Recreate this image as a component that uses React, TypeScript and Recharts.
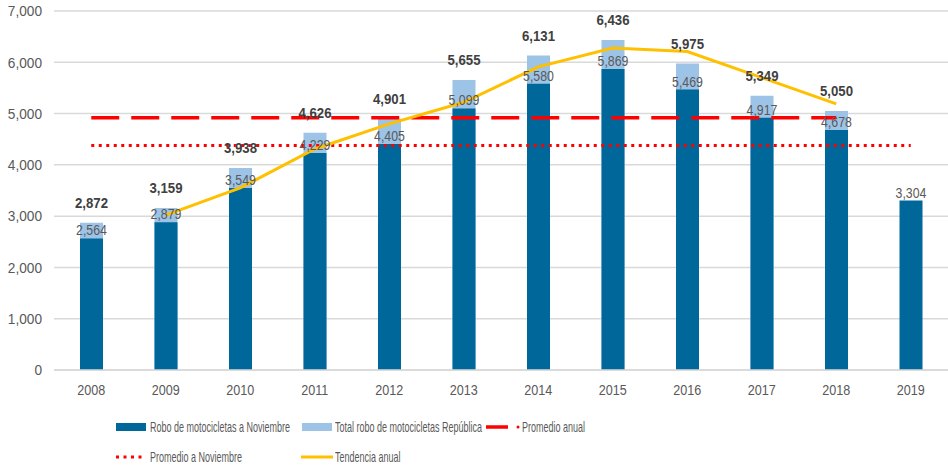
import React from "react";
import { Bar, CartesianGrid, ComposedChart, LabelList, Line, XAxis, YAxis } from "recharts";

const years = ["2008", "2009", "2010", "2011", "2012", "2013", "2014", "2015", "2016", "2017", "2018", "2019"];
const roboNoviembre = [2564, 2879, 3549, 4229, 4405, 5099, 5580, 5869, 5469, 4917, 4678, 3304];
const totalRepublica = [2872, 3159, 3938, 4626, 4901, 5655, 6131, 6436, 5975, 5349, 5050, null];
const promedioAnual = [4918, 4918, 4918, 4918, 4918, 4918, 4918, 4918, 4918, 4918, 4918, null];
const promedioNoviembre = [4379, 4379, 4379, 4379, 4379, 4379, 4379, 4379, 4379, 4379, 4379, 4379];
const tendencia = [null, 3020, 3550, 4310, 4800, 5220, 5910, 6280, 6210, 5700, 5190, null];
const yTicks = [0, 1000, 2000, 3000, 4000, 5000, 6000, 7000];

const DARK = "#00679A";
const LIGHT = "#9DC3E6";
const RED = "#FF0000";
const YELLOW = "#FFC000";
const FONT = "'Liberation Sans', Arial, sans-serif";

const data = years.map((year, i) => ({
  year,
  nov: roboNoviembre[i],
  total: totalRepublica[i],
  promAnual: promedioAnual[i],
  promNov: promedioNoviembre[i],
  tend: tendencia[i],
}));

const fmt = (v: unknown) => (v == null ? "" : Number(v).toLocaleString("en-US"));

// narrow-looking text: squeeze horizontally around the anchor point
function Narrow({ x, y, sx = 0.9, anchor = "middle", dy, size, fill, weight, children }: any) {
  return (
    <text
      x={x}
      y={y}
      dy={dy}
      textAnchor={anchor}
      fontSize={size}
      fill={fill}
      fontWeight={weight}
      fontFamily={FONT}
      transform={`translate(${x} 0) scale(${sx} 1) translate(${-x} 0)`}
    >
      {children}
    </text>
  );
}

const YTick = (p: any) => (
  <Narrow x={p.x} y={p.y} dy="0.35em" anchor="end" size={15} sx={0.91} fill="#595959">
    {fmt(p.payload.value)}
  </Narrow>
);

const XTick = (p: any) => (
  <Narrow x={p.x} y={p.y} dy="0.71em" size={14} sx={0.9} fill="#595959">
    {p.payload.value}
  </Narrow>
);

const totalLabel = (p: any) => {
  if (p.value == null) return null;
  return (
    <Narrow x={p.x + p.width / 2} y={p.y - 15} size={15} sx={0.88} fill="#404040" weight="bold">
      {fmt(p.value)}
    </Narrow>
  );
};

const novLabel = (p: any) => (
  <Narrow x={p.x + p.width / 2} y={p.y - 3} size={14} sx={0.88} fill="#595959">
    {fmt(p.value)}
  </Narrow>
);

function LegendText({ left, top, children }: { left: number; top: number; children: React.ReactNode }) {
  return (
    <div
      style={{
        position: "absolute",
        left,
        top,
        fontSize: 15,
        lineHeight: "16px",
        color: "#595959",
        whiteSpace: "nowrap",
        transform: "scaleX(0.6)",
        transformOrigin: "left center",
      }}
    >
      {children}
    </div>
  );
}

function ChartLegend() {
  return (
    <div style={{ position: "absolute", left: 0, top: 400, width: 948, height: 69, fontFamily: FONT }}>
      <div style={{ position: "absolute", left: 116, top: 23, width: 30, height: 8, background: DARK }} />
      <LegendText left={150} top={19}>Robo de motocicletas a Noviembre</LegendText>
      <div style={{ position: "absolute", left: 302, top: 23, width: 30, height: 8, background: LIGHT }} />
      <LegendText left={335} top={19}>Total robo de motocicletas República</LegendText>
      <svg style={{ position: "absolute", left: 484, top: 20 }} width={40} height={14}>
        <line x1={2} y1={7} x2={24} y2={7} stroke={RED} strokeWidth={3.5} />
        <circle cx={34} cy={7} r={1.5} fill={RED} />
      </svg>
      <LegendText left={522} top={19}>Promedio anual</LegendText>
      <svg style={{ position: "absolute", left: 112, top: 50 }} width={36} height={14}>
        <line x1={4} y1={7} x2={34} y2={7} stroke={RED} strokeWidth={3} strokeDasharray="3 4.5" />
      </svg>
      <LegendText left={150} top={49}>Promedio a Noviembre</LegendText>
      <svg style={{ position: "absolute", left: 300, top: 50 }} width={36} height={14}>
        <line x1={1} y1={7} x2={33} y2={7} stroke={YELLOW} strokeWidth={3} />
      </svg>
      <LegendText left={335} top={49}>Tendencia anual</LegendText>
    </div>
  );
}

export default function App() {
  return (
    <div style={{ position: "absolute", left: 0, top: 0, width: 948, height: 469, background: "#fff", fontFamily: FONT }}>
      <ComposedChart
        width={948}
        height={469}
        data={data}
        margin={{ top: 11, right: 0, bottom: 69, left: 0 }}
        barSize={23}
        barGap={-23}
      >
        <CartesianGrid vertical={false} stroke="#D9D9D9" strokeWidth={1.5} />
        <XAxis
          dataKey="year"
          height={30}
          axisLine={{ stroke: "#D9D9D9", strokeWidth: 1.5 }}
          tickLine={false}
          tickMargin={9}
          tick={XTick}
        />
        <YAxis
          width={54}
          domain={[0, 7000]}
          ticks={yTicks}
          axisLine={false}
          tickLine={false}
          tickMargin={6}
          tick={YTick}
        />
        <Bar dataKey="total" fill={LIGHT} isAnimationActive={false}>
          <LabelList dataKey="total" content={totalLabel} />
        </Bar>
        <Bar dataKey="nov" fill={DARK} isAnimationActive={false}>
          <LabelList dataKey="nov" content={novLabel} />
        </Bar>
        <Line
          dataKey="promAnual"
          stroke={RED}
          strokeWidth={3.5}
          strokeDasharray="28 12"
          dot={false}
          isAnimationActive={false}
        />
        <Line
          dataKey="promNov"
          stroke={RED}
          strokeWidth={3}
          strokeDasharray="3 4.5"
          dot={false}
          isAnimationActive={false}
        />
        <Line dataKey="tend" stroke={YELLOW} strokeWidth={3} dot={false} isAnimationActive={false} />
      </ComposedChart>
      <ChartLegend />
    </div>
  );
}
